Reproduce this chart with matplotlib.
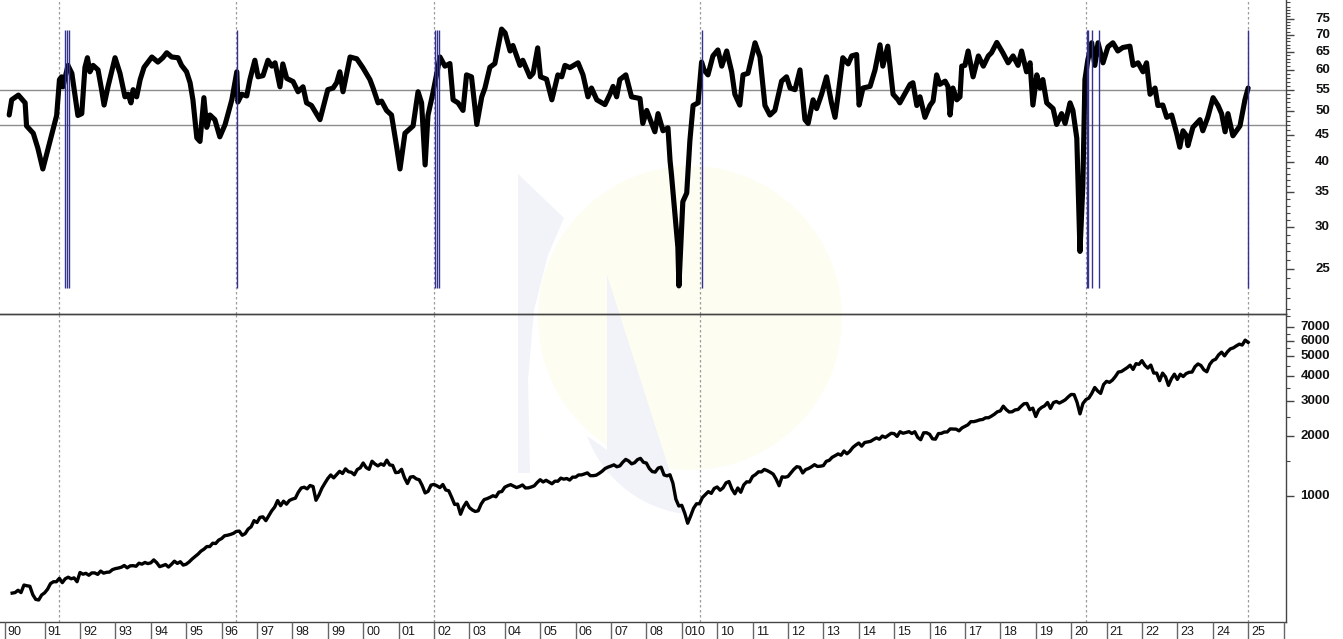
"""
Two-panel chart: diffusion index (top, log scale) with event markers,
S&P 500 monthly closes (bottom, log scale), year strip underneath.
"""

import numpy as np
import matplotlib
matplotlib.use("Agg")
import matplotlib.pyplot as plt
import matplotlib.transforms as mtransforms
from matplotlib.ticker import FixedLocator, NullFormatter
from matplotlib.patches import Circle, Polygon

plt.rcParams['font.family'] = ['Liberation Sans', 'DejaVu Sans']

# ---------------------------------------------------------------
#  Data
# ---------------------------------------------------------------

# top panel: index value vs. decimal year
idx_t = [
    1990.00, 1990.07, 1990.26, 1990.45, 1990.49, 1990.68, 1990.81, 1990.95,
    1991.15, 1991.34, 1991.42, 1991.48, 1991.52, 1991.66, 1991.77, 1991.94,
    1992.05, 1992.14, 1992.21, 1992.28, 1992.37, 1992.51, 1992.61, 1992.68,
    1992.79, 1992.99, 1993.13, 1993.27, 1993.36, 1993.44, 1993.50, 1993.60,
    1993.70, 1993.81, 1994.03, 1994.20, 1994.34, 1994.45, 1994.59, 1994.77,
    1994.87, 1995.01, 1995.11, 1995.19, 1995.30, 1995.39, 1995.50, 1995.58,
    1995.67, 1995.81, 1995.95, 1996.10, 1996.29, 1996.43, 1996.46, 1996.57,
    1996.71, 1996.80, 1996.94, 1997.03, 1997.17, 1997.31, 1997.42, 1997.51,
    1997.65, 1997.73, 1997.84, 1998.02, 1998.16, 1998.30, 1998.40, 1998.54,
    1998.78, 1999.00, 1999.15, 1999.25, 1999.34, 1999.43, 1999.63, 1999.82,
    1999.99, 2000.19, 2000.28, 2000.42, 2000.52, 2000.66, 2000.80, 2000.95,
    2001.04, 2001.18, 2001.41, 2001.55, 2001.65, 2001.75, 2001.83, 2001.97,
    2002.17, 2002.31, 2002.45, 2002.54, 2002.68, 2002.82, 2002.92, 2003.06,
    2003.21, 2003.35, 2003.44, 2003.58, 2003.72, 2003.91, 2004.01, 2004.15,
    2004.23, 2004.43, 2004.51, 2004.71, 2004.80, 2004.93, 2005.01, 2005.18,
    2005.33, 2005.50, 2005.61, 2005.70, 2005.84, 2006.07, 2006.21, 2006.35,
    2006.45, 2006.60, 2006.83, 2006.97, 2007.06, 2007.16, 2007.25, 2007.42,
    2007.58, 2007.82, 2007.90, 2008.01, 2008.15, 2008.24, 2008.33, 2008.47,
    2008.61, 2008.67, 2008.71, 2008.89, 2008.92, 2009.03, 2009.14, 2009.23,
    2009.32, 2009.46, 2009.56, 2009.63, 2009.74, 2009.88, 2010.02, 2010.13,
    2010.27, 2010.41, 2010.50, 2010.64, 2010.73, 2010.87, 2011.07, 2011.21,
    2011.35, 2011.49, 2011.63, 2011.82, 2011.96, 2012.06, 2012.20, 2012.34,
    2012.48, 2012.57, 2012.71, 2012.81, 2012.95, 2013.09, 2013.23, 2013.33,
    2013.41, 2013.55, 2013.70, 2013.80, 2013.94, 2014.01, 2014.12, 2014.32,
    2014.46, 2014.60, 2014.68, 2014.82, 2014.97, 2015.11, 2015.16, 2015.45,
    2015.53, 2015.64, 2015.73, 2015.87, 2016.01, 2016.10, 2016.20, 2016.29,
    2016.44, 2016.52, 2016.58, 2016.66, 2016.77, 2016.86, 2016.91, 2017.00,
    2017.09, 2017.23, 2017.38, 2017.52, 2017.66, 2017.75, 2017.90, 2018.07,
    2018.22, 2018.36, 2018.50, 2018.60, 2018.74, 2018.84, 2018.92, 2019.03,
    2019.12, 2019.20, 2019.31, 2019.49, 2019.59, 2019.73, 2019.83, 2019.97,
    2020.05, 2020.16, 2020.25, 2020.33, 2020.39, 2020.47, 2020.58, 2020.67,
    2020.76, 2020.90, 2021.04, 2021.18, 2021.32, 2021.46, 2021.66, 2021.75,
    2021.89, 2022.03, 2022.13, 2022.23, 2022.37, 2022.45, 2022.59, 2022.70,
    2022.84, 2022.98, 2023.07, 2023.16, 2023.26, 2023.30, 2023.44, 2023.64,
    2023.72, 2023.86, 2024.01, 2024.15, 2024.25, 2024.35, 2024.43, 2024.57,
    2024.77, 2024.91, 2025.00,
]
idx_v = [
    49.2, 52.6, 53.7, 51.9, 46.9, 45.4, 42.5, 38.8,
    43.8, 49.1, 57.5, 58.2, 55.7, 61.2, 59.1, 49.1,
    49.5, 60.7, 63.3, 59.5, 61.2, 60.0, 55.0, 51.4,
    55.7, 63.3, 59.1, 53.3, 53.9, 51.9, 55.0, 53.3,
    57.5, 60.7, 63.5, 62.1, 63.3, 64.7, 63.5, 63.3,
    61.2, 59.5, 56.7, 52.6, 44.5, 43.8, 53.1, 46.6,
    49.2, 48.2, 44.7, 47.2, 52.6, 59.5, 52.1, 53.9,
    53.5, 57.5, 62.6, 58.2, 58.5, 62.6, 61.0, 61.9,
    55.7, 61.6, 57.8, 57.0, 54.5, 55.7, 51.9, 51.3,
    48.2, 55.0, 55.4, 56.7, 59.5, 54.5, 63.5, 63.0,
    60.6, 57.5, 55.4, 51.9, 52.3, 50.2, 49.2, 42.6,
    38.8, 45.4, 46.9, 54.5, 51.9, 39.5, 49.1, 54.2,
    63.5, 61.0, 61.7, 52.6, 51.9, 50.2, 58.7, 58.2,
    47.2, 53.3, 55.4, 60.7, 61.7, 71.8, 70.6, 65.2,
    66.8, 61.2, 62.6, 58.2, 59.1, 66.1, 58.2, 57.6,
    52.6, 58.7, 58.2, 61.2, 60.6, 61.9, 58.7, 53.3,
    55.4, 52.6, 51.5, 53.9, 55.8, 53.3, 57.5, 58.7,
    53.3, 52.9, 47.4, 50.2, 47.4, 45.7, 49.5, 45.9,
    46.5, 40.2, 37.8, 27.5, 23.2, 33.6, 34.9, 44.0,
    51.3, 51.9, 62.1, 60.0, 58.7, 63.8, 65.5, 61.0,
    65.2, 59.5, 53.9, 51.4, 58.7, 59.1, 67.6, 63.5,
    51.3, 49.2, 50.2, 57.1, 58.2, 55.4, 55.0, 60.0,
    48.2, 47.4, 52.6, 50.6, 53.9, 58.2, 51.9, 48.7,
    53.3, 63.3, 61.6, 63.8, 64.2, 51.4, 55.4, 55.8,
    60.0, 67.0, 61.0, 66.6, 53.9, 52.6, 51.9, 56.3,
    56.7, 51.3, 53.3, 48.7, 51.3, 52.3, 58.7, 56.3,
    57.1, 55.8, 49.2, 55.4, 52.6, 53.3, 61.0, 61.2,
    65.2, 58.2, 63.8, 61.0, 63.8, 64.7, 67.7, 64.7,
    61.9, 63.8, 61.2, 65.2, 59.5, 61.9, 51.4, 58.7,
    55.4, 57.5, 51.9, 50.6, 47.2, 49.5, 47.4, 51.9,
    50.2, 44.4, 27.0, 36.0, 57.5, 62.6, 67.6, 61.2,
    67.6, 61.9, 66.4, 67.6, 65.2, 66.2, 66.6, 61.2,
    61.9, 59.5, 61.9, 53.9, 55.4, 51.3, 51.4, 48.7,
    49.2, 45.4, 42.7, 45.9, 44.9, 43.0, 46.6, 48.2,
    45.9, 48.7, 53.1, 51.3, 49.5, 45.7, 49.5, 44.9,
    46.9, 52.6, 55.4,
]

# reference levels and event markers of the top panel
ref_levels = [55, 47]
event_dates = [1991.41, 1996.41, 2002.0, 2009.51, 2020.42, 2025.0]
signal_dates = [1991.575, 1991.62, 1991.69, 1996.425, 2002.03, 2002.09,
                2002.15, 2009.58, 2020.44, 2020.49, 2020.60, 2020.78, 2025.0]

# bottom panel: S&P 500 monthly closes, Jan 1990 .. Dec 2024
spx_close = [
    329, 331, 340, 331, 361, 358, 356, 323, 306, 304, 322, 330,
    344, 367, 375, 375, 390, 371, 388, 395, 388, 392, 375, 417,
    409, 413, 404, 415, 415, 408, 424, 414, 418, 419, 431, 436,
    439, 443, 452, 440, 450, 451, 448, 464, 459, 468, 462, 466,
    482, 467, 446, 451, 457, 444, 458, 475, 463, 472, 454, 459,
    471, 487, 501, 515, 533, 545, 562, 562, 584, 582, 605, 616,
    636, 640, 646, 654, 669, 671, 640, 652, 687, 705, 757, 741,
    786, 791, 757, 801, 848, 885, 954, 899, 947, 915, 955, 970,
    980, 1049, 1102, 1112, 1091, 1134, 1121, 957, 1017, 1099, 1164, 1229,
    1280, 1238, 1286, 1335, 1302, 1373, 1329, 1320, 1283, 1363, 1389, 1469,
    1394, 1366, 1499, 1452, 1421, 1455, 1431, 1518, 1437, 1429, 1315, 1320,
    1366, 1240, 1160, 1249, 1256, 1224, 1211, 1134, 1041, 1060, 1139, 1148,
    1130, 1107, 1147, 1077, 1067, 990, 912, 916, 815, 886, 936, 880,
    856, 841, 848, 917, 964, 975, 990, 1008, 996, 1051, 1058, 1112,
    1131, 1145, 1126, 1107, 1121, 1141, 1102, 1104, 1115, 1130, 1174, 1212,
    1181, 1204, 1181, 1157, 1192, 1191, 1234, 1220, 1229, 1207, 1249, 1248,
    1280, 1281, 1295, 1311, 1270, 1270, 1277, 1304, 1336, 1378, 1401, 1418,
    1438, 1407, 1421, 1482, 1531, 1503, 1455, 1474, 1527, 1549, 1481, 1468,
    1379, 1331, 1323, 1386, 1400, 1280, 1267, 1283, 1165, 969, 896, 903,
    826, 735, 798, 873, 919, 919, 987, 1021, 1057, 1036, 1096, 1115,
    1074, 1104, 1169, 1187, 1089, 1031, 1102, 1049, 1141, 1183, 1181, 1258,
    1286, 1327, 1326, 1364, 1345, 1321, 1292, 1219, 1131, 1253, 1247, 1258,
    1312, 1366, 1408, 1398, 1310, 1362, 1379, 1407, 1441, 1412, 1416, 1426,
    1498, 1515, 1569, 1598, 1631, 1606, 1686, 1633, 1682, 1757, 1806, 1848,
    1783, 1859, 1872, 1884, 1924, 1960, 1931, 2003, 1972, 2018, 2068, 2059,
    1995, 2105, 2068, 2086, 2107, 2063, 2104, 1972, 1920, 2079, 2080, 2044,
    1940, 1932, 2060, 2065, 2097, 2099, 2174, 2171, 2168, 2126, 2199, 2239,
    2279, 2364, 2363, 2384, 2412, 2423, 2470, 2472, 2519, 2575, 2648, 2674,
    2824, 2714, 2641, 2648, 2705, 2718, 2816, 2902, 2914, 2712, 2760, 2507,
    2704, 2784, 2834, 2946, 2752, 2942, 2980, 2926, 2977, 3038, 3141, 3231,
    3226, 2954, 2585, 2912, 3044, 3100, 3271, 3500, 3363, 3270, 3622, 3756,
    3714, 3811, 3973, 4181, 4204, 4298, 4395, 4523, 4308, 4605, 4567, 4766,
    4516, 4374, 4530, 4132, 4132, 3785, 4130, 3955, 3586, 3872, 4080, 3840,
    4077, 3970, 4109, 4169, 4180, 4450, 4589, 4508, 4288, 4194, 4568, 4770,
    4846, 5096, 5254, 5036, 5278, 5460, 5522, 5648, 5762, 5705, 6032, 5882,
]
spx_t = 1990 + (np.arange(len(spx_close)) + 1) / 12.0

# axis labels
top_ticks = [25, 30, 35, 40, 45, 50, 55, 60, 65, 70, 75]
bot_ticks = [1000, 2000, 3000, 4000, 5000, 6000, 7000]
bot_minor = [1500, 2500, 3500, 4500, 5500, 6500, 8000]
year_starts = list(range(1990, 2027))
year_labels = ['90', '91', '92', '93', '94', '95', '96', '97', '98', '99',
               '00', '01', '02', '03', '04', '05', '06', '07', '08', '010',
               '10', '11', '12', '13', '14', '15', '16', '17', '18', '19',
               '20', '21', '22', '23', '24', '25']

# ---------------------------------------------------------------
#  Layout (pixel boxes of the 1343x639 canvas)
# ---------------------------------------------------------------
W, H = 1343, 639
XMIN, XMAX = 1989.74, 2026.07
AX_RIGHT = 1286
LABEL_RIGHT = 1330      # right edge of the y tick labels (px)


def box(x0, y0, x1, y1):
    return [x0 / W, 1 - y1 / H, (x1 - x0) / W, (y1 - y0) / H]


fig = plt.figure(figsize=(W / 100, H / 100), dpi=100)

# faint logo watermark behind everything
bg = fig.add_axes([0, 0, 1, 1], zorder=0)
bg.set_xlim(0, W)
bg.set_ylim(H, 0)
bg.axis('off')
wm_blue = '#f1f3f8'
bg.add_patch(Circle((690, 318), 152, color='#fefdf2', lw=0))
bg.add_patch(Polygon([(518, 174), (564, 218), (548, 255), (534, 310), (528, 380),
                      (530, 473), (518, 473)], closed=True, color=wm_blue, lw=0))
arc = np.radians(np.linspace(200, 262, 30))
lower = [(607, 275)] + [(700 + 120 * np.cos(a), 395 - 120 * np.sin(a)) for a in arc[::-1]]
bg.add_patch(Polygon(lower + [(640, 473), (607, 473)], closed=True, color=wm_blue, lw=0))

ax_top = fig.add_axes(box(0, 0, AX_RIGHT, 314), zorder=2)
ax_bot = fig.add_axes(box(0, 314, AX_RIGHT, 622), zorder=2)
ax_lab = fig.add_axes(box(0, 622, AX_RIGHT, 639), zorder=2)

for ax in (ax_top, ax_bot):
    ax.set_facecolor('none')
    ax.set_xlim(XMIN, XMAX)
    ax.set_yscale('log')
    ax.yaxis.tick_right()
    ax.tick_params(axis='x', which='both', bottom=False, labelbottom=False)
    ax.spines['left'].set_visible(False)
    for side in ('right', 'bottom', 'top'):
        ax.spines[side].set_color('#444444')
        ax.spines[side].set_linewidth(1.0)
    for d in event_dates:
        ax.axvline(d, color='#9c9c9c', lw=0.9, ls=(0, (2, 2)), zorder=1)
ax_top.spines['top'].set_visible(False)

# ----- top panel -----
ax_top.set_ylim(20.5, 81.6)
for lv in ref_levels:
    ax_top.axhline(lv, color='#8c8c8c', lw=1.0, zorder=2)
ax_top.plot(idx_t, idx_v, color='black', lw=3.7, solid_joinstyle='round',
            solid_capstyle='round', zorder=3)
ax_top.vlines(signal_dates, 23.0, 71.5, color='#33338f', lw=1.0, zorder=4)
ax_top.yaxis.set_major_locator(FixedLocator(top_ticks))
ax_top.yaxis.set_minor_locator(FixedLocator([v for v in range(21, 82) if v % 5]))

# ----- bottom panel -----
ax_bot.set_ylim(236, 8150)
ax_bot.plot(spx_t, spx_close, color='black', lw=2.4, solid_joinstyle='round', zorder=3)
ax_bot.yaxis.set_major_locator(FixedLocator(bot_ticks))
ax_bot.yaxis.set_minor_locator(FixedLocator(bot_minor))

# right-aligned bold tick labels
label_x = LABEL_RIGHT / AX_RIGHT
for ax, ticks in ((ax_top, top_ticks), (ax_bot, bot_ticks)):
    ax.yaxis.set_major_formatter(NullFormatter())
    ax.yaxis.set_minor_formatter(NullFormatter())
    ax.tick_params(axis='y', which='major', direction='out', length=5.5, width=1,
                   color='#444444')
    ax.tick_params(axis='y', which='minor', direction='out', length=3, width=0.8,
                   color='#444444')
    trans = mtransforms.blended_transform_factory(ax.transAxes, ax.transData)
    for v in ticks:
        ax.text(label_x, v, str(v), transform=trans, ha='right', va='center',
                fontsize=9.5, fontweight='bold', color='#111111', clip_on=False)

# ----- year strip -----
ax_lab.set_xlim(XMIN, XMAX)
ax_lab.set_ylim(0, 1)
ax_lab.axis('off')
seps = np.array(year_starts, dtype=float)
seps[0] = XMIN + 0.13
ax_lab.vlines(seps, 0, 1, color='#666666', lw=1.0)
for x, lab in zip(seps[:-1], year_labels):
    ax_lab.text(x + 0.09, 0.42, lab, fontsize=9, color='#1a1a1a',
                ha='left', va='center')

fig.savefig("out.png", dpi=100)
plt.close(fig)
